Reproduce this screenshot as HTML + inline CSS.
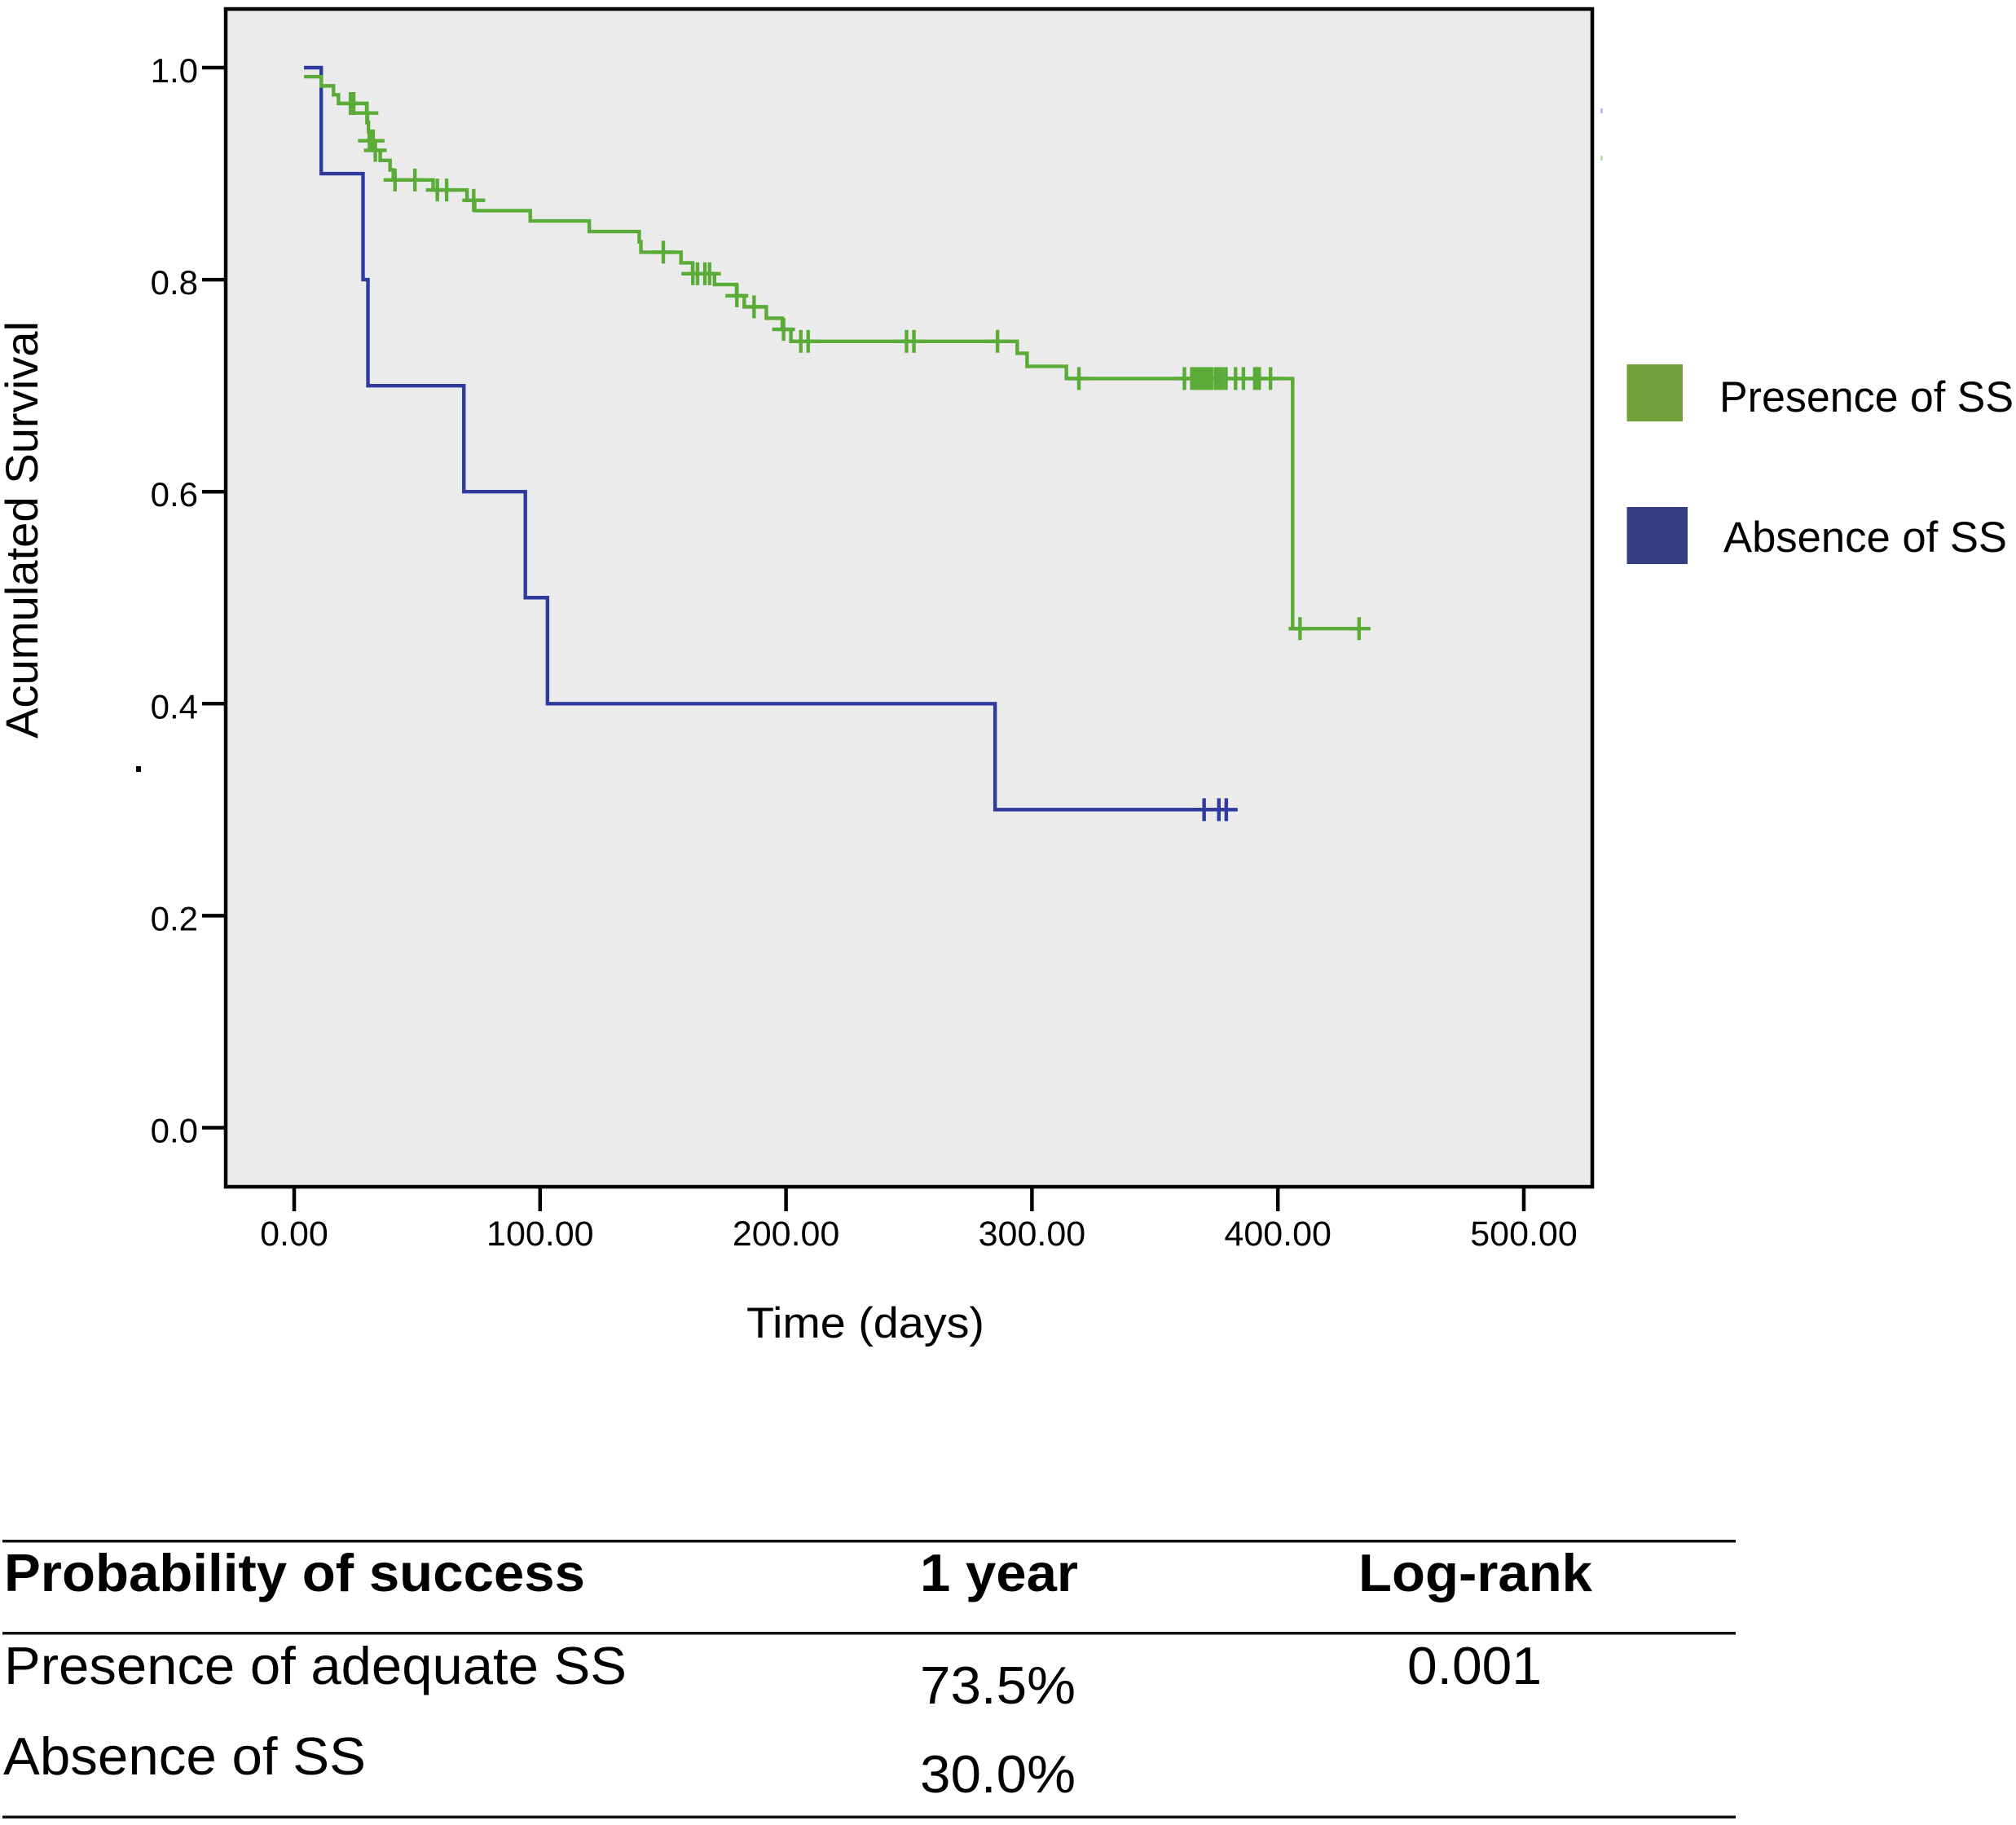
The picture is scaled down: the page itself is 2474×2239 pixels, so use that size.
<!DOCTYPE html>
<html lang="en">
<head>
<meta charset="utf-8">
<title>Kaplan-Meier survival chart</title>
<style>
html,body{margin:0;padding:0;background:#fff;}
body{width:2474px;height:2239px;overflow:hidden;}
svg{display:block;}
text{font-family:"Liberation Sans",sans-serif;fill:#000;}
</style>
</head>
<body>
<svg id="chart" width="2474" height="2239" viewBox="0 0 2474 2239" xmlns="http://www.w3.org/2000/svg">
  <rect x="0" y="0" width="2474" height="2239" fill="#ffffff"/>
  <rect x="277" y="11" width="1677" height="1445" fill="#ebebeb"/>
  <g id="series-layer"></g>
  <rect x="277" y="11" width="1677" height="1445" fill="none" stroke="#000" stroke-width="4.5"/>
  <g id="axis-layer"></g>

  <text transform="translate(46,906) rotate(-90)" font-size="56" textLength="512" lengthAdjust="spacingAndGlyphs">Acumulated Survival</text>
  <text x="916" y="1641" font-size="53" textLength="292" lengthAdjust="spacingAndGlyphs">Time (days)</text>
  <rect x="167" y="940" width="6" height="7" fill="#000"/>
  <rect x="1964" y="133" width="3" height="6" fill="#b9bbe6"/>
  <rect x="1964" y="191" width="3" height="6" fill="#bfe3b0"/>

  <g>
    <g>
      <rect x="1996.5" y="447" width="68.5" height="70" fill="#73a03a"/>
      <text x="2110" y="505" font-size="53" textLength="361" lengthAdjust="spacingAndGlyphs">Presence of SS</text>
    </g>
    <g>
      <rect x="1996.5" y="622" width="74.5" height="70" fill="#323e80"/>
      <text x="2115" y="677" font-size="53" textLength="348" lengthAdjust="spacingAndGlyphs">Absence of SS</text>
    </g>
  </g>

  <g>
    <rect x="3" y="1889" width="2127" height="3.5" fill="#111"/>
    <rect x="3" y="2002" width="2127" height="3.5" fill="#111"/>
    <rect x="3" y="2227.5" width="2127" height="3.5" fill="#111"/>
    <text x="5" y="1952" font-size="65" font-weight="700" textLength="713" lengthAdjust="spacingAndGlyphs">Probability of success</text>
    <text x="1129" y="1952" font-size="65" font-weight="700" textLength="194" lengthAdjust="spacingAndGlyphs">1 year</text>
    <text x="1667" y="1952" font-size="65" font-weight="700" textLength="287" lengthAdjust="spacingAndGlyphs">Log-rank</text>
    <text x="5" y="2066" font-size="65" textLength="764" lengthAdjust="spacingAndGlyphs">Presence of adequate SS</text>
    <text x="1129" y="2090" font-size="65" textLength="191" lengthAdjust="spacingAndGlyphs">73.5%</text>
    <text x="1727" y="2066" font-size="65" textLength="165" lengthAdjust="spacingAndGlyphs">0.001</text>
    <text x="4" y="2177" font-size="65" textLength="445" lengthAdjust="spacingAndGlyphs">Absence of SS</text>
    <text x="1129" y="2199" font-size="65" textLength="191" lengthAdjust="spacingAndGlyphs">30.0%</text>
  </g>
</svg>

<script>
var xTicks = [0, 100, 200, 300, 400, 500];
var xTickLabels = ['0.00', '100.00', '200.00', '300.00', '400.00', '500.00'];
var yTicks = [0, 0.2, 0.4, 0.6, 0.8, 1.0];
var yTickLabels = ['0.0', '0.2', '0.4', '0.6', '0.8', '1.0'];

var absenceStart = 4;
var absenceTimes = [11, 28, 30, 69, 94, 103, 285];
var absenceSurvival = [1.0, 0.9, 0.8, 0.7, 0.6, 0.5, 0.4, 0.3];
var absenceCensored = [370, 376, 379];

var presenceStart = 4;
var presenceTimes = [11, 16, 18, 29.5, 29.8, 30.2, 30.5, 32.6, 35, 39, 40.3, 56.5, 70.3, 73.4, 96, 120, 140.3, 141, 157.3, 162, 170.9, 179.9, 183, 192, 198.5, 202, 294, 298, 314, 406];
var presenceSurvival = [0.9915, 0.9828, 0.9744, 0.9662, 0.9572, 0.9485, 0.9398, 0.931, 0.922, 0.9125, 0.9035, 0.894, 0.8846, 0.8749, 0.8651, 0.8554, 0.8454, 0.8356, 0.8259, 0.8159, 0.8056, 0.7954, 0.7848, 0.7744, 0.7636, 0.7531, 0.7418, 0.7305, 0.7182, 0.7067, 0.4708];
var presenceCensored = [22.9, 23.5, 24.2, 29.6, 30.6, 31.1, 31.6, 32.1, 33, 41, 49.1, 58.2, 62, 73, 150.1, 162.1, 164, 167, 168.9, 180, 187, 199, 206, 209, 249, 252, 286, 319.1, 362, 365, 366, 367, 368, 369, 370, 371, 372, 373, 374.6, 375.6, 376.6, 377.4, 378.9, 382.8, 386, 390.6, 391.6, 392.4, 397, 409, 433];

var NS = 'http://www.w3.org/2000/svg';

function xScale(t) { return 361 + 3.018 * t; }
function yScale(s) { return 1383.5 - 1300.5 * s; }

function survivalAt(t, times, surv) {
  var s = surv[0];
  for (var i = 0; i < times.length; i++) {
    if (t >= times[i]) { s = surv[i + 1]; }
  }
  return s;
}

function stepPath(start, times, surv, end) {
  var d = 'M' + xScale(start) + ' ' + yScale(surv[0]);
  for (var i = 0; i < times.length; i++) {
    d += ' H' + xScale(times[i]) + ' V' + yScale(surv[i + 1]);
  }
  d += ' H' + xScale(end);
  return d;
}

function censorPath(censored, times, surv) {
  var d = '';
  for (var i = 0; i < censored.length; i++) {
    var x = xScale(censored[i]);
    var y = yScale(survivalAt(censored[i], times, surv));
    d += 'M' + (x - 14) + ' ' + y + ' H' + (x + 14) + ' M' + x + ' ' + (y - 14) + ' V' + (y + 14) + ' ';
  }
  return d;
}

var seriesLayer = document.getElementById('series-layer');
var axisLayer = document.getElementById('axis-layer');

var absenceLine = document.createElementNS(NS, 'path');


absenceLine.setAttribute('d', stepPath(absenceStart, absenceTimes, absenceSurvival, absenceCensored[absenceCensored.length - 1]));
absenceLine.setAttribute('fill', 'none');
absenceLine.setAttribute('stroke', '#2f3b9f');
absenceLine.setAttribute('stroke-width', '4.4');
seriesLayer.appendChild(absenceLine);

var absenceMarks = document.createElementNS(NS, 'path');


absenceMarks.setAttribute('d', censorPath(absenceCensored, absenceTimes, absenceSurvival));
absenceMarks.setAttribute('fill', 'none');
absenceMarks.setAttribute('stroke', '#2f3b9f');
absenceMarks.setAttribute('stroke-width', '4.4');
seriesLayer.appendChild(absenceMarks);

var presenceLine = document.createElementNS(NS, 'path');


presenceLine.setAttribute('d', stepPath(presenceStart, presenceTimes, presenceSurvival, presenceCensored[presenceCensored.length - 1]));
presenceLine.setAttribute('fill', 'none');
presenceLine.setAttribute('stroke', '#5aab38');
presenceLine.setAttribute('stroke-width', '4.4');
seriesLayer.appendChild(presenceLine);

var presenceMarks = document.createElementNS(NS, 'path');


presenceMarks.setAttribute('d', censorPath(presenceCensored, presenceTimes, presenceSurvival));
presenceMarks.setAttribute('fill', 'none');
presenceMarks.setAttribute('stroke', '#5aab38');
presenceMarks.setAttribute('stroke-width', '4.4');
seriesLayer.appendChild(presenceMarks);

xTicks.forEach(function (v, i) {
  var tick = document.createElementNS(NS, 'line');
  
  
  tick.setAttribute('x1', xScale(v));
  tick.setAttribute('x2', xScale(v));
  tick.setAttribute('y1', 1456);
  tick.setAttribute('y2', 1486);
  tick.setAttribute('stroke', '#000');
  tick.setAttribute('stroke-width', '4.5');
  axisLayer.appendChild(tick);

  var label = document.createElementNS(NS, 'text');
  
  
  label.setAttribute('x', xScale(v));
  label.setAttribute('y', 1528);
  label.setAttribute('font-size', '43');
  label.setAttribute('text-anchor', 'middle');
  label.textContent = xTickLabels[i];
  axisLayer.appendChild(label);
});

yTicks.forEach(function (v, i) {
  var tick = document.createElementNS(NS, 'line');
  
  
  tick.setAttribute('x1', 248);
  tick.setAttribute('x2', 277);
  tick.setAttribute('y1', yScale(v));
  tick.setAttribute('y2', yScale(v));
  tick.setAttribute('stroke', '#000');
  tick.setAttribute('stroke-width', '4.5');
  axisLayer.appendChild(tick);

  var label = document.createElementNS(NS, 'text');
  
  
  label.setAttribute('x', 243);
  label.setAttribute('y', yScale(v) + 18);
  label.setAttribute('font-size', '42');
  label.setAttribute('text-anchor', 'end');
  label.textContent = yTickLabels[i];
  axisLayer.appendChild(label);
});
</script>
</body>
</html>
